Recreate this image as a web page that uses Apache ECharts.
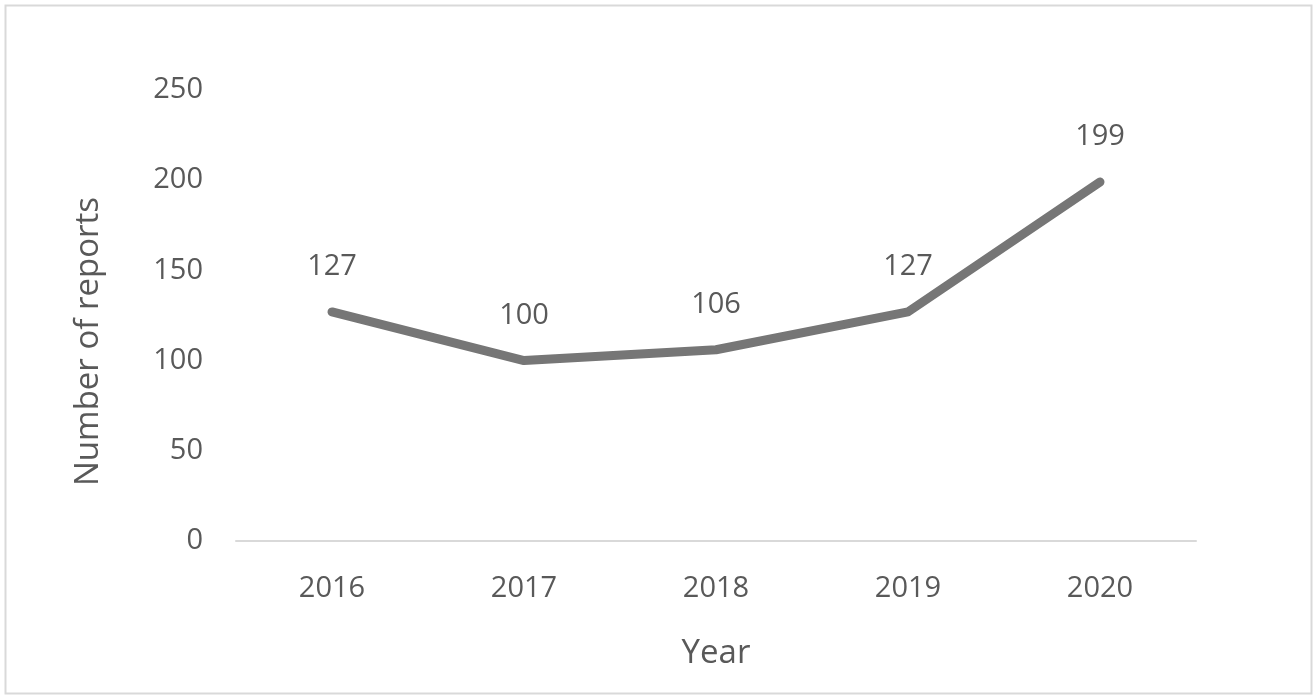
<!DOCTYPE html>
<html>
<head>
<meta charset="utf-8">
<script src="https://cdn.jsdelivr.net/npm/echarts@6/dist/echarts.min.js"></script>
<style>html,body{margin:0;padding:0;background:#fff}#c{width:1314px;height:696px}</style>
</head>
<body>
<div id="c"></div>
<script>
const years = ['2016', '2017', '2018', '2019', '2020'];
const reports = [127, 100, 106, 127, 199];
const yTicks = { min: 0, max: 250, interval: 50 };

const chart = echarts.init(document.getElementById('c'), null, { renderer: 'canvas' });
const font = '"Open Sans", "Liberation Sans", sans-serif';
const txt = '#595959';
chart.setOption({
  animation: false,
  backgroundColor: '#fff',
  graphic: [{
    type: 'rect', left: 3, top: 3,
    shape: { width: 1306, height: 688 },
    style: { fill: 'none', stroke: '#d9d9d9', lineWidth: 2 }
  }],
  grid: { left: 236, right: 118, top: 90, bottom: 155 },
  xAxis: {
    type: 'category', data: years, boundaryGap: true,
    name: 'Year', nameLocation: 'middle', nameGap: 96,
    nameTextStyle: { fontFamily: font, fontSize: 33, color: txt },
    axisLine: { lineStyle: { color: '#d9d9d9', width: 2 } },
    axisTick: { show: false },
    axisLabel: { fontFamily: font, fontSize: 29, color: txt, margin: 33 }
  },
  yAxis: {
    type: 'value', min: yTicks.min, max: yTicks.max, interval: yTicks.interval,
    name: 'Number of reports', nameLocation: 'middle', nameGap: 131, nameRotate: 90,
    nameTextStyle: { fontFamily: font, fontSize: 33, color: txt, padding: [0, 52, 0, 0] },
    axisLine: { show: false }, axisTick: { show: false },
    splitLine: { show: false },
    axisLabel: { fontFamily: font, fontSize: 29, color: txt, margin: 33 }
  },
  series: [{
    type: 'line', data: reports,
    symbol: 'circle', symbolSize: 1,
    itemStyle: { color: '#767676' },
    lineStyle: { color: '#767676', width: 9, cap: 'round', join: 'round' },
    label: { show: true, position: 'top', distance: 30, fontFamily: font, fontSize: 29, color: txt }
  }]
});
</script>
</body>
</html>
